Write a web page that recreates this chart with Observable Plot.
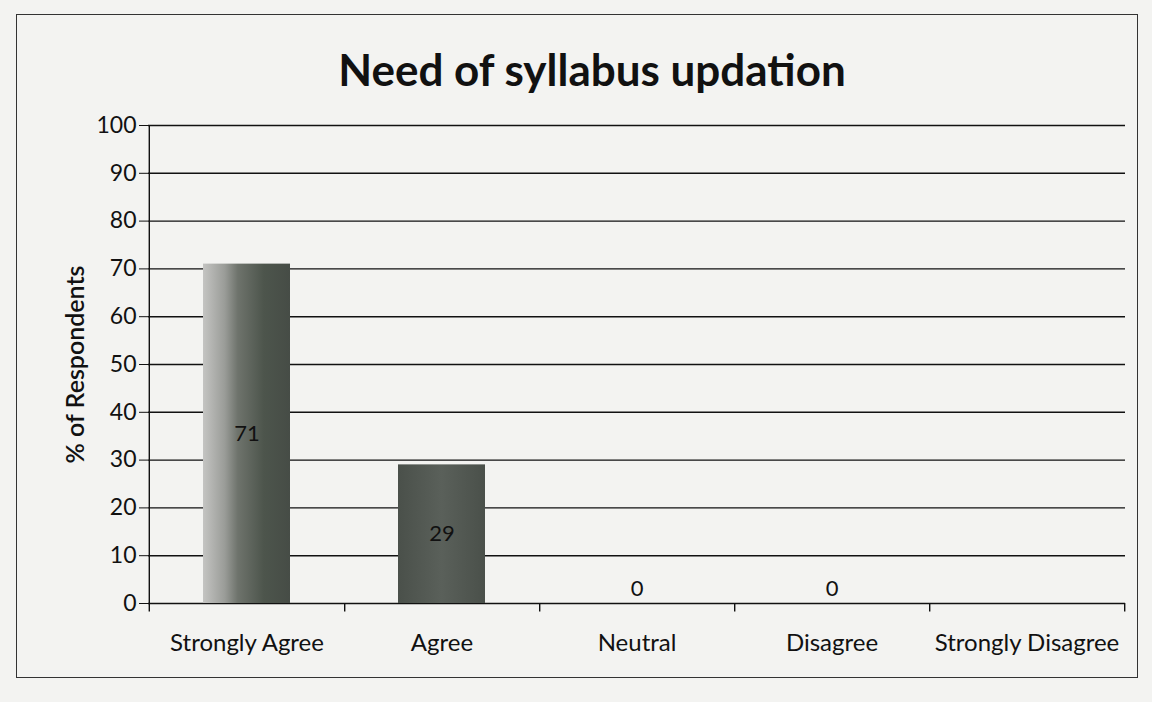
<!DOCTYPE html>
<html>
<head>
<meta charset="utf-8">
<script src="https://cdn.jsdelivr.net/npm/d3@7"></script>
<script src="https://cdn.jsdelivr.net/npm/@observablehq/plot@0.6"></script>
<style>
  html, body { margin: 0; padding: 0; background: #f3f3f1; }
  body { width: 1152px; height: 702px; position: relative; overflow: hidden; font-family: Lato, "Open Sans", sans-serif; }
  #frame { position: absolute; left: 16px; top: 14px; width: 1122px; height: 664px; border: 1.5px solid #333; box-sizing: border-box; }
  #title { position: absolute; left: 0; top: 43px; width: 1184px; text-align: center; font-size: 44px; font-weight: bold; color: #111; }
  #chart { position: absolute; left: 0; top: 100px; }
  #chart svg g[aria-label="y-axis label"] text { font-weight: 600; }
</style>
</head>
<body>
<div id="frame"></div>
<div id="title">Need of syllabus updation</div>
<div id="chart"></div>
<script>
const categories = ["Strongly Agree", "Agree", "Neutral", "Disagree", "Strongly Disagree"];
const values = [71, 29, 0, 0, null];
const yTicks = [0, 10, 20, 30, 40, 50, 60, 70, 80, 90, 100];
const barFills = ["url(#g1)", "url(#g2)", "#555", "#555", "#555"];

const data = categories.map((c, i) => ({cat: c, v: values[i], fill: barFills[i]}));
const bars = data.filter(d => d.v != null && d.v > 0);
const zeros = data.filter(d => d.v === 0);

const W = 1152, ML = 148, MR = 27;
const step = (W - ML - MR) / categories.length;

const plot = Plot.plot({
  width: W,
  height: 570,
  marginLeft: ML,
  marginRight: MR,
  marginTop: 25,
  marginBottom: 67,
  style: {fontFamily: "Lato, 'Open Sans', sans-serif", background: "transparent", color: "#111"},
  x: {domain: categories, padding: 0},
  y: {domain: [0, 100]},
  marks: [
    Plot.ruleY(yTicks, {y: d => d, stroke: "#111", strokeWidth: 1.4}),
    Plot.axisY({ticks: yTicks, tickSize: 9, tickPadding: 3, fontSize: 23, label: null, stroke: "#111"}),
    Plot.axisY({ticks: [], tickSize: 0, fontSize: 25, label: "% of Respondents", labelAnchor: "center", labelOffset: 82, labelArrow: "none"}),
    Plot.ruleX([categories[0]], {x: d => d, dx: -step / 2, y1: -1.8, y2: 100, stroke: "#111", strokeWidth: 1.4}),
    Plot.ruleX(categories, {x: d => d, dx: step / 2, y1: 0, y2: -1.8, stroke: "#111", strokeWidth: 1.4}),
    Plot.axisX({tickSize: 0, tickPadding: 30, fontSize: 24, label: null}),
    Plot.barY(bars, {x: "cat", y: "v", fill: "fill", insetLeft: 54, insetRight: 54}),
    Plot.text(bars, {x: "cat", y: d => d.v / 2, text: d => String(d.v), fontSize: 22, fill: "#111"}),
    Plot.text(zeros, {x: "cat", y: 0, dy: -8, lineAnchor: "bottom", text: d => String(d.v), fontSize: 22, fill: "#111"})
  ]
});

const ns = "http://www.w3.org/2000/svg";
const defs = document.createElementNS(ns, "defs");
defs.innerHTML = `
  <linearGradient id="g1" x1="0" x2="1" y1="0" y2="0">
    <stop offset="0" stop-color="#c4c4c2"/>
    <stop offset="0.25" stop-color="#9a9c98"/>
    <stop offset="0.4" stop-color="#6e736c"/>
    <stop offset="0.7" stop-color="#4d554c"/>
    <stop offset="1" stop-color="#464c46"/>
  </linearGradient>
  <linearGradient id="g2" x1="0" x2="1" y1="0" y2="0">
    <stop offset="0" stop-color="#4a504a"/>
    <stop offset="0.5" stop-color="#5a605a"/>
    <stop offset="1" stop-color="#4a504a"/>
  </linearGradient>`;
plot.insertBefore(defs, plot.firstChild);
document.getElementById("chart").appendChild(plot);
</script>
</body>
</html>
